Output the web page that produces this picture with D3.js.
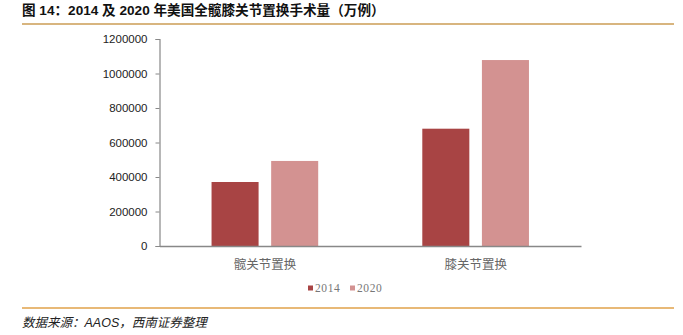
<!DOCTYPE html>
<html><head><meta charset="utf-8">
<script src="https://cdn.jsdelivr.net/npm/d3@7"></script>
<style>
html,body{margin:0;padding:0;background:#fff;}
svg{display:block;}
</style></head>
<body>
<svg id="c" width="683" height="335"></svg>
<script>
const categories = ["髋关节置换", "膝关节置换"];
const seriesNames = ["2014", "2020"];
const values2014 = [371000, 680000];
const values2020 = [493000, 1078000];
const yTicks = [0, 200000, 400000, 600000, 800000, 1000000, 1200000];
const colors = ["#A84444", "#D39291"];
const titleText = "图 14：2014 及 2020 年美国全髋膝关节置换手术量（万例）";
const sourceText = "数据来源：AAOS，西南证券整理";

const svg = d3.select("#c");
const cjk = "'Noto Sans CJK SC', sans-serif";

// title
svg.append("text").attr("x", 22).attr("y", 15)
  .attr("font-family", "'Liberation Sans', 'Noto Sans CJK SC', sans-serif")
  .attr("font-weight", "bold").attr("font-size", 13.6).attr("fill", "#111")
  .text(titleText);
svg.append("line").attr("x1", 22).attr("x2", 674).attr("y1", 24).attr("y2", 24)
  .attr("stroke", "#D8B57F").attr("stroke-width", 2);

const x0 = d3.scaleBand().domain(categories).range([159.5, 581]);
const x1 = d3.scaleBand().domain(seriesNames).range([0, x0.bandwidth()]).paddingInner(0.211).paddingOuter(0.873);
const y = d3.scaleLinear().domain([0, 1200000]).range([246, 39]);

const data = categories.map((c, i) => ({cat: c, vals: [values2014[i], values2020[i]]}));

const g = svg.append("g");
g.selectAll("g.grp").data(data).join("g").attr("class", "grp")
  .attr("transform", d => `translate(${x0(d.cat)},0)`)
  .selectAll("rect").data(d => d.vals.map((v, j) => ({s: seriesNames[j], v, j})))
  .join("rect")
  .attr("x", d => x1(d.s)).attr("width", x1.bandwidth())
  .attr("y", d => y(d.v)).attr("height", d => y(0) - y(d.v))
  .attr("fill", d => colors[d.j]);

// y axis
const yAxis = d3.axisLeft(y).tickValues(yTicks).tickSize(4).tickPadding(8)
  .tickFormat(d3.format("d"));
const ya = svg.append("g").attr("transform", "translate(159.5,0)").call(yAxis);
ya.select(".domain").attr("stroke", "#888").attr("stroke-width", 1.2);
ya.selectAll(".tick line").attr("stroke", "#888");
ya.selectAll(".tick text").attr("font-family", "'Liberation Sans', Arial, sans-serif")
  .attr("font-size", 11.5).attr("fill", "#222");

// x axis
const xAxis = d3.axisBottom(x0).tickSize(0).tickPadding(14);
const xa = svg.append("g").attr("transform", "translate(0,246)").call(xAxis);
xa.select(".domain").attr("stroke", "#888").attr("stroke-width", 1.5);
xa.selectAll(".tick text").attr("font-family", cjk).attr("font-size", 12.5).attr("fill", "#666");

// legend
const leg = svg.append("g");
const legX = [308, 350];
seriesNames.forEach((s, i) => {
  leg.append("rect").attr("x", legX[i]).attr("y", 285.5).attr("width", 5).attr("height", 5).attr("fill", colors[i]);
  leg.append("text").attr("x", legX[i] + 7).attr("y", 292)
    .attr("font-family", "'Liberation Serif', 'Times New Roman', serif")
    .attr("font-size", 11.5).attr("fill", "#777").attr("letter-spacing", 0.6).text(s);
});

// footer
svg.append("line").attr("x1", 22).attr("x2", 674).attr("y1", 308).attr("y2", 308)
  .attr("stroke", "#E1A24A").attr("stroke-width", 1.5);
svg.append("text").attr("x", 22).attr("y", 327)
  .attr("font-family", "'Liberation Sans', 'Noto Sans CJK SC', sans-serif")
  .attr("font-style", "italic").attr("font-size", 12.5).attr("fill", "#222")
  .text(sourceText);
</script>
</body></html>
